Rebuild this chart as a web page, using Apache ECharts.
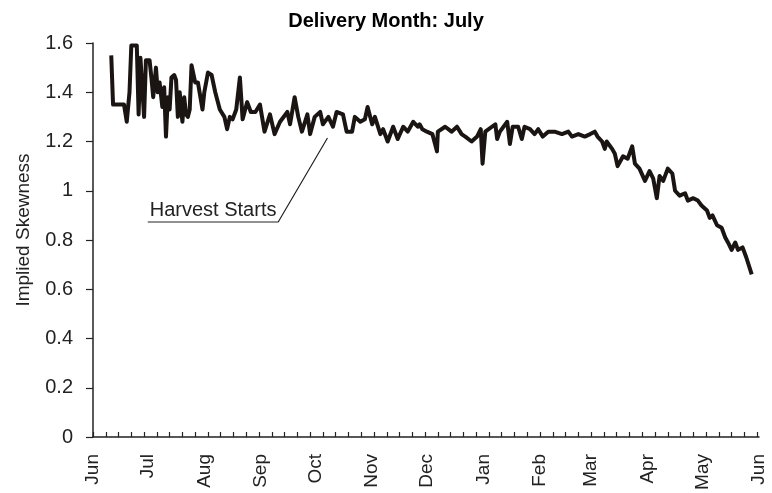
<!DOCTYPE html>
<html>
<head>
<meta charset="utf-8">
<script src="https://cdn.jsdelivr.net/npm/echarts@6/dist/echarts.min.js"></script>
<style>
  html, body { margin: 0; padding: 0; background: #fff; }
  #chart { width: 772px; height: 493px; }
</style>
</head>
<body>
<div id="chart"></div>
<script>
// days counted from 1 June (0) to 1 June next year (365)
const monthNames = ['Jun', 'Jul', 'Aug', 'Sep', 'Oct', 'Nov', 'Dec', 'Jan', 'Feb', 'Mar', 'Apr', 'May', 'Jun']
const monthStarts = [0, 30, 61, 92, 122, 153, 183, 214, 245, 273, 304, 334, 365]
const weekTicks = [0, 7, 14, 21, 28, 35, 42, 49, 56, 63, 70, 77, 84, 91, 98, 105, 112, 119, 126, 133, 140, 147, 154, 161, 168, 175, 182, 189, 196, 203, 210, 217, 224, 231, 238, 245, 252, 259, 266, 273, 280, 287, 294, 301, 308, 315, 322, 329, 336, 343, 350, 357, 364]

// implied skewness
const days = [
  10, 11, 17, 18.5, 20, 21, 24, 25, 26, 28, 29, 31, 32, 33, 34.5, 35.5, 36.5, 38, 39, 40,
  41, 42, 43, 44.5, 45.5, 46.5, 47.5, 49, 50, 51, 52, 53, 54, 56, 57.5, 60, 61, 63, 65, 67,
  69.5, 72, 73.5, 75, 76.5, 78.5, 80.5, 82, 84.5, 86.5, 89, 91.5, 94, 97, 99.5, 102.5, 106.5, 108, 110.5, 112.5,
  114.5, 117.5, 119, 121.5, 124.5, 126, 129, 131.5, 133.5, 137, 139, 142, 143.5, 146.5, 149, 150.5, 153, 154.5, 157.5, 159,
  161.5, 164.5, 167, 170, 172.5, 175.5, 178, 179, 180.5, 183, 186, 188.5, 189, 193, 196.5, 199.5, 202, 204, 207.5, 210.5,
  212.5, 213.5, 215, 220.5, 221.5, 223, 227, 228.5, 230, 233, 235, 236.5, 239.5, 242, 244, 246.5, 249.5, 253, 257, 260.5,
  262.5, 266, 269.5, 272.5, 275, 276.5, 279, 280.5, 281.5, 284.5, 286, 287.5, 290.5, 293, 295.5, 297, 299.5, 302.5, 305, 307,
  309, 310.5, 312.5, 315, 317.5, 319, 321.5, 324.5, 326, 329, 331.5, 333.5, 336.5, 338, 339.5, 342, 344.5, 346.5, 348, 350,
  352, 353.5, 356, 358, 361
]
const skew = [
  1.55, 1.35, 1.35, 1.28, 1.40, 1.59, 1.59, 1.31, 1.54, 1.30, 1.53, 1.53, 1.46, 1.38, 1.50, 1.40, 1.44, 1.34, 1.42, 1.22,
  1.38, 1.33, 1.46, 1.47, 1.45, 1.30, 1.40, 1.28, 1.38, 1.31, 1.30, 1.33, 1.51, 1.44, 1.44, 1.33, 1.40, 1.48, 1.47, 1.40,
  1.33, 1.30, 1.25, 1.30, 1.29, 1.33, 1.46, 1.29, 1.36, 1.32, 1.32, 1.35, 1.24, 1.31, 1.23, 1.28, 1.32, 1.27, 1.38, 1.30,
  1.24, 1.31, 1.23, 1.30, 1.32, 1.27, 1.30, 1.26, 1.32, 1.31, 1.24, 1.24, 1.30, 1.28, 1.29, 1.34, 1.27, 1.30, 1.23, 1.25,
  1.20, 1.26, 1.21, 1.26, 1.24, 1.28, 1.26, 1.27, 1.25, 1.24, 1.23, 1.16, 1.24, 1.26, 1.24, 1.26, 1.23, 1.22, 1.20, 1.22,
  1.25, 1.11, 1.24, 1.27, 1.21, 1.24, 1.28, 1.19, 1.26, 1.26, 1.21, 1.26, 1.25, 1.23, 1.25, 1.22, 1.24, 1.24, 1.23, 1.24,
  1.22, 1.23, 1.22, 1.23, 1.24, 1.22, 1.20, 1.17, 1.20, 1.17, 1.15, 1.10, 1.14, 1.13, 1.18, 1.11, 1.09, 1.04, 1.08, 1.05,
  0.97, 1.06, 1.04, 1.09, 1.07, 1.00, 0.98, 0.99, 0.96, 0.97, 0.96, 0.94, 0.92, 0.89, 0.90, 0.86, 0.85, 0.81, 0.79, 0.76,
  0.79, 0.76, 0.77, 0.73, 0.66
]

// "Harvest Starts" leader line (underline + pointer), in data units
const harvestText = 'Harvest Starts'
const harvestDays = [30, 101.5, 128.5]
const harvestVals = [0.873, 0.873, 1.214]

const chart = echarts.init(document.getElementById('chart'), null, { renderer: 'canvas' })

const font = 'Liberation Sans, Arial, sans-serif'
const ink = '#1a1512'

chart.setOption({
  backgroundColor: '#fff',
  animation: false,
  title: {
    text: 'Delivery Month: July',
    left: 'center',
    top: 6,
    textStyle: { fontFamily: font, fontSize: 20, fontWeight: 'bold', color: '#000' }
  },
  grid: { left: 93, right: 13, top: 43, bottom: 56 },
  xAxis: {
    type: 'value',
    min: 0,
    max: 365,
    splitLine: { show: false },
    axisLine: { show: true, onZero: false, lineStyle: { color: '#222', width: 1.5 } },
    axisTick: {
      show: true,
      inside: true,
      length: 5,
      customValues: weekTicks,
      lineStyle: { color: '#222', width: 1.2 }
    },
    axisLabel: {
      customValues: monthStarts,
      rotate: 90,
      margin: 17,
      fontFamily: font,
      fontSize: 19,
      color: '#222',
      formatter: v => monthNames[monthStarts.indexOf(v)] || ''
    }
  },
  yAxis: {
    type: 'value',
    min: 0,
    max: 1.6,
    interval: 0.2,
    name: 'Implied Skewness',
    nameLocation: 'middle',
    nameGap: 60,
    nameTextStyle: { fontFamily: font, fontSize: 19, color: '#222', padding: [0, 0, 0, 20] },
    splitLine: { show: false },
    axisLine: { show: true, lineStyle: { color: '#222', width: 1.5 } },
    axisTick: { show: true, length: 7, lineStyle: { color: '#222', width: 1.2 } },
    axisLabel: {
      margin: 20,
      fontFamily: font,
      fontSize: 20,
      color: '#222',
      formatter: v => String(+v.toFixed(1))
    }
  },
  series: [
    {
      name: 'skew',
      type: 'line',
      data: days.map((d, i) => [d, skew[i]]),
      symbol: 'none',
      lineStyle: { color: ink, width: 4, join: 'round' }
    },
    {
      name: 'harvest',
      type: 'line',
      data: harvestDays.map((d, i) => [d, harvestVals[i]]),
      symbol: 'none',
      silent: true,
      lineStyle: { color: '#222', width: 1.2 }
    }
  ]
})

// place the annotation text just above the underline
const p = chart.convertToPixel({ gridIndex: 0 }, [harvestDays[0], harvestVals[0]])
chart.setOption({
  graphic: [{
    type: 'text',
    x: p[0] + 2,
    y: p[1] - 2,
    style: {
      text: harvestText,
      font: '20px ' + font,
      fill: '#222',
      textAlign: 'left',
      textVerticalAlign: 'bottom'
    }
  }]
})
</script>
</body>
</html>
